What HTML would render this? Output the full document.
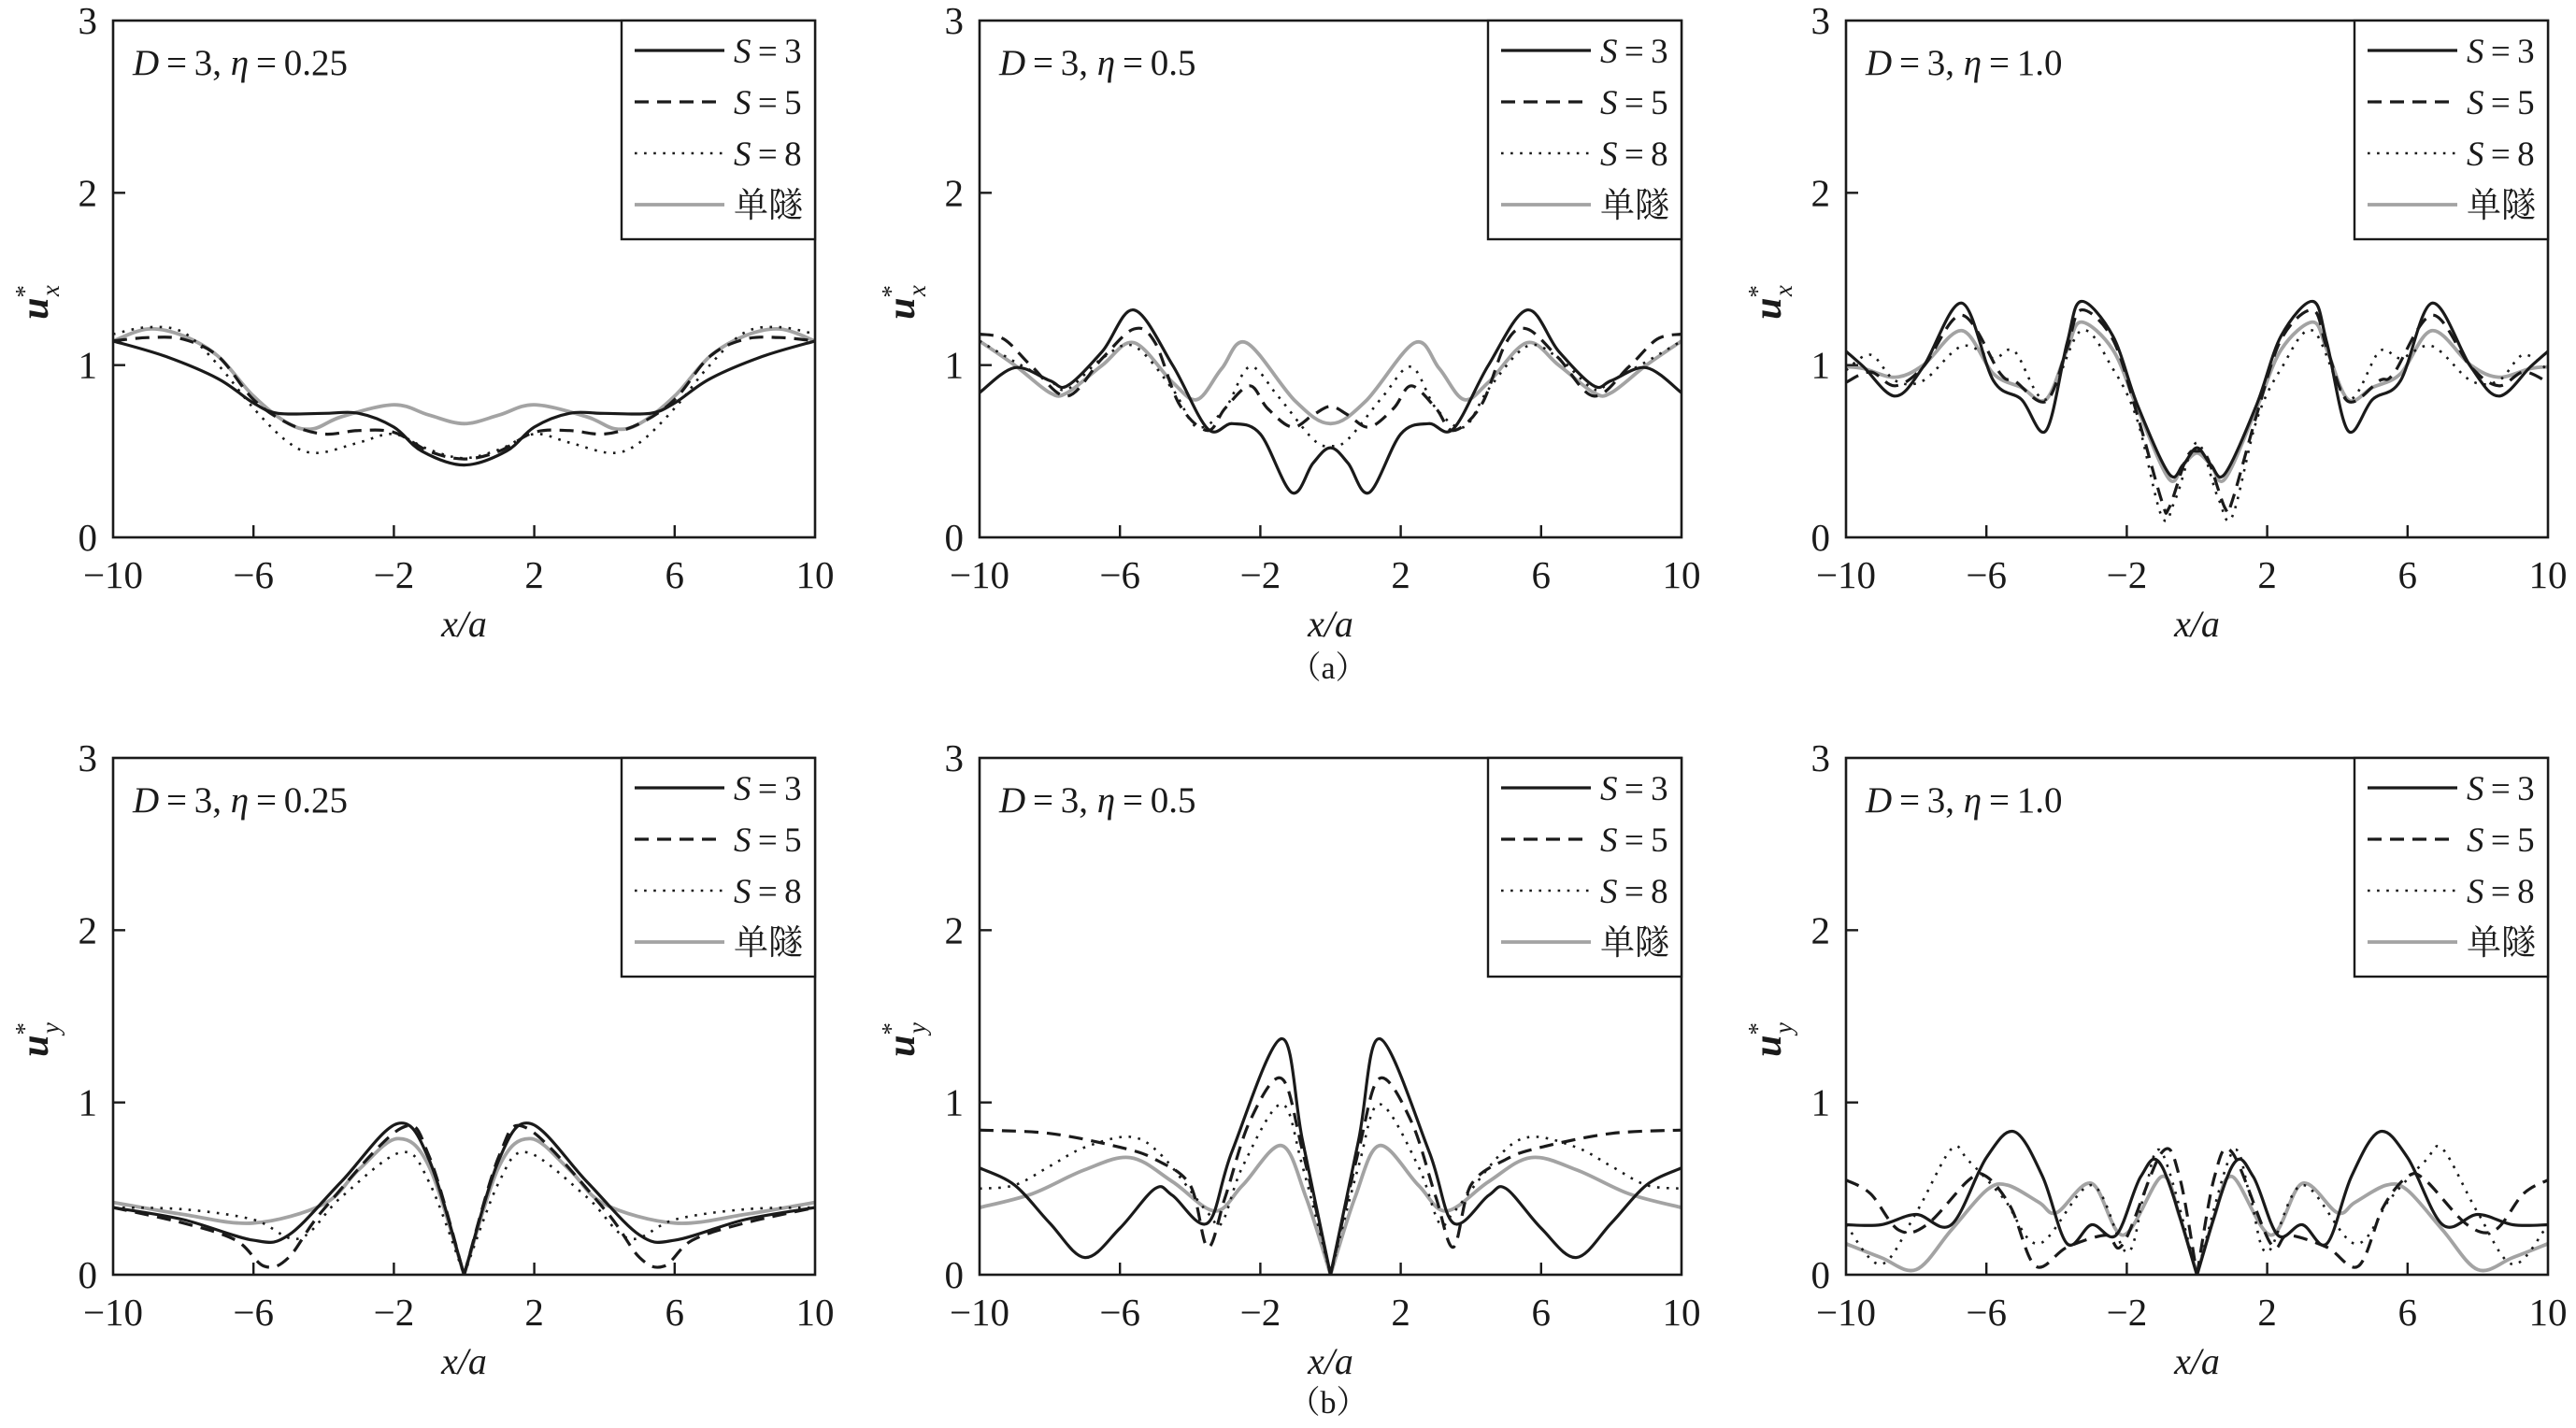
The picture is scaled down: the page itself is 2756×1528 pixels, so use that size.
<!DOCTYPE html>
<html><head><meta charset="utf-8">
<style>
html,body{margin:0;padding:0;background:#fff;}
svg{display:block;}
text{fill:#1a1a1a;}
</style></head>
<body>
<svg id="s" width="2756" height="1528" viewBox="0 0 2756 1528" xmlns="http://www.w3.org/2000/svg" font-family="Liberation Serif, serif">
</svg>
<script>
const svg=document.getElementById('s');
const NS='http://www.w3.org/2000/svg';
const L=[121,1048,1975], T=[22,811], W=751, H=553;
function el(tag,attrs,text){const e=document.createElementNS(NS,tag);for(const k in attrs)e.setAttribute(k,attrs[k]);if(text!==undefined)e.textContent=text;svg.appendChild(e);return e;}
const D={
 '0_0':{s3:[[-10,1.14],[-8.5,1.05],[-7,0.92],[-6,0.78],[-5.3,0.72],[-4,0.72],[-3,0.72],[-2,0.64],[-1.2,0.5],[0,0.42]],
        s5:[[-10,1.14],[-9,1.16],[-8,1.15],[-7,1.05],[-6,0.8],[-5,0.66],[-4,0.6],[-3,0.62],[-2,0.61],[-1,0.5],[0,0.455]],
        s8:[[-10,1.18],[-9,1.22],[-8,1.19],[-7,1.0],[-6,0.75],[-5,0.55],[-4.2,0.49],[-3,0.55],[-2,0.6],[-1,0.51],[0,0.46]],
        g:[[-10,1.14],[-9,1.21],[-8,1.17],[-7,1.05],[-6,0.82],[-5,0.66],[-4.3,0.63],[-3.5,0.7],[-2,0.77],[-1,0.71],[0,0.66]]},
 '0_1':{s3:[[-10,0.84],[-9,0.985],[-8,0.91],[-7.5,0.88],[-6.5,1.08],[-5.6,1.32],[-4.5,1.0],[-3.5,0.63],[-2.8,0.66],[-2,0.6],[-1.1,0.26],[-0.5,0.43],[0,0.52]],
        s5:[[-10,1.18],[-9.3,1.15],[-8.5,0.99],[-7.5,0.82],[-6.5,1.04],[-5.6,1.21],[-5,1.13],[-4.3,0.77],[-3.5,0.62],[-3,0.75],[-2.3,0.88],[-1.8,0.75],[-1.1,0.64],[-0.5,0.71],[0,0.76]],
        s8:[[-10,1.14],[-9,1.02],[-8,0.91],[-7.5,0.86],[-6.5,1.04],[-5.6,1.11],[-4.5,0.86],[-3.8,0.64],[-3,0.75],[-2.3,0.99],[-1.5,0.82],[-0.5,0.57],[0,0.53]],
        g:[[-10,1.14],[-9,1.0],[-8,0.84],[-7.5,0.84],[-6.5,1.0],[-5.6,1.13],[-4.5,0.9],[-3.8,0.8],[-3.1,0.98],[-2.4,1.13],[-1,0.79],[0,0.66]]},
 '0_2':{s3:[[-10,1.08],[-9.5,0.99],[-8.6,0.82],[-7.8,0.99],[-6.7,1.36],[-5.8,0.91],[-5,0.8],[-4.3,0.62],[-3.7,1.13],[-3.3,1.37],[-2.4,1.17],[-1.7,0.77],[-0.8,0.37],[-0.4,0.42],[0,0.52]],
        s5:[[-10,0.9],[-9.3,0.96],[-8.6,0.88],[-7.8,0.99],[-6.7,1.29],[-5.6,0.95],[-5.2,0.91],[-4.3,0.79],[-3.7,1.1],[-3.3,1.32],[-2.4,1.15],[-1.7,0.71],[-1,0.21],[-0.8,0.17],[-0.3,0.46],[0,0.5]],
        s8:[[-10,0.97],[-9.3,1.06],[-8.6,0.91],[-7.8,0.91],[-6.7,1.11],[-5.8,1.04],[-5.2,1.08],[-4.3,0.8],[-3.3,1.2],[-2.4,0.98],[-1.7,0.68],[-1,0.12],[-0.6,0.23],[0,0.55]],
        g:[[-10,0.99],[-9.5,0.98],[-8.6,0.93],[-7.8,1.0],[-6.7,1.2],[-5.8,0.95],[-5,0.87],[-4.3,0.8],[-3.7,1.09],[-3.3,1.25],[-2.4,1.09],[-1.7,0.75],[-0.8,0.34],[-0.4,0.42],[0,0.49]]},
 '1_0':{cusp:1,s3:[[-10,0.39],[-8,0.32],[-6,0.2],[-5,0.23],[-3.5,0.54],[-1.9,0.877],[-1,0.67],[0,0]],
        s5:[[-10,0.39],[-8,0.3],[-6.5,0.2],[-5.7,0.05],[-5,0.1],[-4,0.38],[-1.8,0.85],[-1,0.69],[0,0]],
        s8:[[-10,0.39],[-8,0.38],[-6,0.32],[-4.7,0.21],[-3.5,0.45],[-1.8,0.71],[-1,0.54],[0,0]],
        g:[[-10,0.42],[-8,0.35],[-6,0.3],[-4,0.41],[-3,0.61],[-1.9,0.79],[-1,0.63],[0,0]]},
 '1_1':{cusp:1,s3:[[-10,0.62],[-9,0.52],[-8,0.3],[-7,0.1],[-6,0.27],[-5,0.5],[-4.5,0.46],[-3.5,0.3],[-2.8,0.72],[-1.4,1.37],[-0.8,0.78],[0,0]],
        s5:[[-10,0.84],[-8,0.82],[-6,0.74],[-5,0.67],[-4,0.52],[-3.5,0.16],[-3,0.45],[-2.3,0.89],[-1.4,1.14],[-0.8,0.72],[0,0]],
        s8:[[-10,0.5],[-9,0.52],[-8,0.63],[-7,0.74],[-5.7,0.8],[-4.8,0.69],[-3.5,0.36],[-3.1,0.3],[-2.5,0.63],[-1.4,0.99],[-0.8,0.63],[0,0]],
        g:[[-10,0.39],[-8.5,0.47],[-7,0.61],[-5.7,0.68],[-4.5,0.54],[-3.3,0.37],[-2.5,0.52],[-1.4,0.75],[-0.7,0.45],[0,0]]},
 '1_2':{cusp:1,s3:[[-10,0.29],[-9,0.29],[-8,0.35],[-7,0.29],[-6,0.68],[-5.2,0.83],[-4.4,0.57],[-3.7,0.18],[-3,0.29],[-2.3,0.23],[-1.6,0.57],[-1,0.63],[0,0]],
        s5:[[-10,0.55],[-9.3,0.47],[-8.5,0.26],[-7.7,0.29],[-6.5,0.55],[-6,0.57],[-5.3,0.39],[-4.6,0.05],[-3.7,0.16],[-2.6,0.23],[-2.1,0.18],[-1,0.71],[-0.5,0.57],[0,0]],
        s8:[[-10,0.29],[-9,0.06],[-8,0.36],[-7,0.73],[-6.5,0.66],[-5.5,0.44],[-4.5,0.18],[-3,0.52],[-2,0.13],[-1.5,0.47],[-1,0.71],[0,0]],
        g:[[-10,0.18],[-9,0.1],[-8,0.03],[-7,0.26],[-6,0.49],[-5.4,0.52],[-4.5,0.42],[-4,0.36],[-3,0.53],[-2.1,0.23],[-1,0.57],[-0.5,0.34],[0,0]]}
};
function cr(pts){
 let d='M'+pts[0][0].toFixed(1)+','+pts[0][1].toFixed(1);
 for(let i=0;i<pts.length-1;i++){
  const p0=pts[i-1]||pts[i],p1=pts[i],p2=pts[i+1],p3=pts[i+2]||pts[i+1];
  const c1=[p1[0]+(p2[0]-p0[0])/6,p1[1]+(p2[1]-p0[1])/6];
  const c2=[p2[0]-(p3[0]-p1[0])/6,p2[1]-(p3[1]-p1[1])/6];
  d+='C'+c1.map(v=>v.toFixed(1)).join(',')+' '+c2.map(v=>v.toFixed(1)).join(',')+' '+p2[0].toFixed(1)+','+p2[1].toFixed(1);
 }
 return d;
}
const style={s3:{stroke:'#1a1a1a','stroke-width':3.2},
 s5:{stroke:'#1a1a1a','stroke-width':3.2,'stroke-dasharray':'15 9'},
 s8:{stroke:'#1a1a1a','stroke-width':2.6,'stroke-dasharray':'2.6 7.5'},
 g:{stroke:'#a3a3a3','stroke-width':3.8}};
const annot=['0.25','0.5','1.0'];
for(let r=0;r<2;r++)for(let c=0;c<3;c++){
 const x0=L[c],y0=T[r];
 const px=x=>x0+(x+10)/20*W, py=y=>y0+H-y/3*H;
 const dat=D[r+'_'+c];
 for(const k of ['g','s8','s5','s3']){
  const half=dat[k].map(p=>[px(p[0]),py(p[1])]);
  const mir=dat[k].map(p=>[px(-p[0]),py(p[1])]).reverse();
  let d;
  if(dat.cusp){d=cr(half)+' '+cr(mir);}
  else{d=cr(half.concat(mir.slice(1)));}
  el('path',Object.assign({d:d,fill:'none','stroke-linejoin':'round'},style[k]));
 }
 el('rect',{x:x0,y:y0,width:W,height:H,fill:'none',stroke:'#1a1a1a','stroke-width':2.6});
 [-6,-2,2,6].forEach(v=>el('line',{x1:px(v),x2:px(v),y1:y0+H,y2:y0+H-13,stroke:'#1a1a1a','stroke-width':2.4}));
 [1,2].forEach(v=>el('line',{x1:x0,x2:x0+13,y1:py(v),y2:py(v),stroke:'#1a1a1a','stroke-width':2.4}));
 [-10,-6,-2,2,6,10].forEach(v=>el('text',{x:px(v),y:y0+H+54,'text-anchor':'middle','font-size':41},v<0?'\u2212'+(-v):String(v)));
 [0,1,2,3].forEach(v=>el('text',{x:x0-17,y:py(v)+14,'text-anchor':'end','font-size':41},String(v)));
 const xl=el('text',{x:x0+W/2,y:y0+H+106,'text-anchor':'middle','font-size':40,'font-style':'italic'});
 xl.textContent='x/a';
 const yl=el('text',{transform:`translate(${x0-70},${y0+H/2+25}) rotate(-90)`,'text-anchor':'middle','font-size':42});
 yl.innerHTML=`<tspan font-style="italic" font-weight="bold">u</tspan><tspan font-size="27" dy="-16">*</tspan><tspan font-size="27" font-style="italic" dx="-12" dy="28">${r==0?'x':'y'}</tspan>`;
 const an=el('text',{x:x0+21,y:y0+58,'font-size':39});
 an.innerHTML=`<tspan font-style="italic">D</tspan>\u2009=\u20093, <tspan font-style="italic">η</tspan>\u2009=\u2009${annot[c]}`;
 const lx=x0+W-207;
 el('rect',{x:lx,y:y0,width:207,height:234,fill:'#fff',stroke:'#1a1a1a','stroke-width':2.4});
 const labs=['3','5','8'];
 ['s3','s5','s8','g'].forEach((k,i)=>{
  const yy=y0+32+i*55;
  el('line',Object.assign({x1:lx+14,x2:lx+110,y1:yy,y2:yy},style[k]));
  const t=el('text',{x:lx+120,y:yy+13,'font-size':37});
  if(i<3) t.innerHTML=`<tspan font-style="italic">S</tspan>\u2009=\u2009${labs[i]}`;
  else {t.setAttribute('font-family','Noto Serif CJK SC, Noto Sans CJK SC, serif');t.textContent='单隧';}
 });
}
el('text',{x:1421,y:726,'text-anchor':'middle','font-size':34,'font-family':'Liberation Serif, Noto Serif CJK SC, serif'},'（a）');
el('text',{x:1421,y:1512,'text-anchor':'middle','font-size':34,'font-family':'Liberation Serif, Noto Serif CJK SC, serif'},'（b）');
</script>
</body></html>
